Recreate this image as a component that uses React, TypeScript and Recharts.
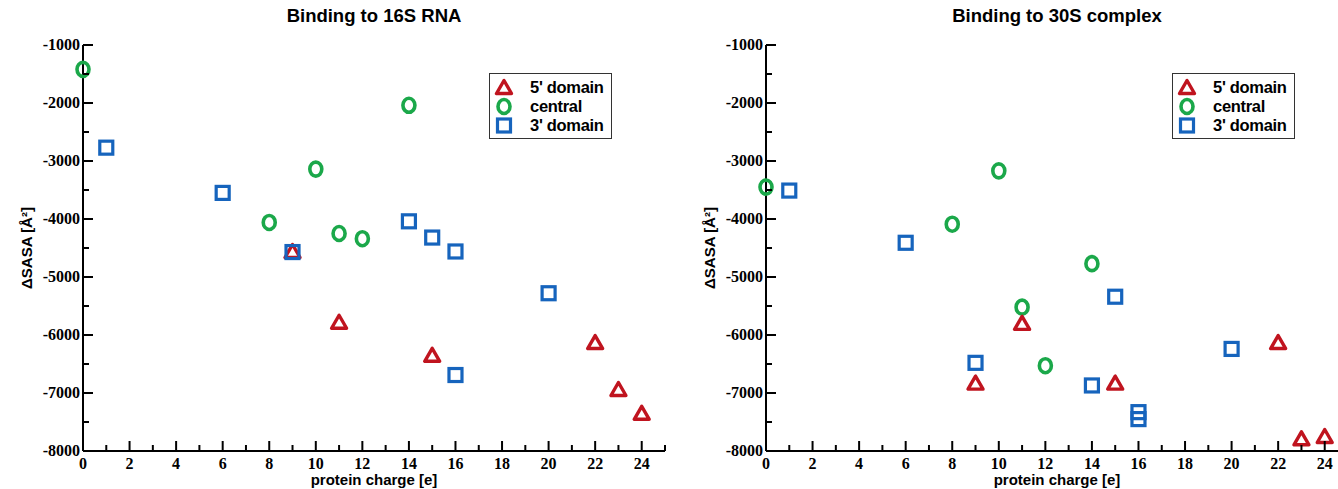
import { ScatterChart, Scatter, XAxis, YAxis } from "recharts";

// charge values (x) and ΔSASA values (y), one pair of lists per series
const rna5X = [9, 11, 15, 22, 23, 24];
const rna5Y = [-4560, -5780, -6350, -6130, -6940, -7350];
const rnaCentralX = [0, 8, 10, 11, 12, 14];
const rnaCentralY = [-1420, -4060, -3140, -4250, -4340, -2040];
const rna3X = [1, 6, 9, 14, 15, 16, 16, 20];
const rna3Y = [-2770, -3550, -4570, -4040, -4320, -4560, -6690, -5280];

const cpx5X = [9, 11, 15, 22, 23, 24];
const cpx5Y = [-6830, -5800, -6830, -6130, -7790, -7750];
const cpxCentralX = [0, 8, 10, 11, 12, 14];
const cpxCentralY = [-3450, -4090, -3170, -5520, -6530, -4770];
const cpx3X = [1, 6, 9, 14, 15, 16, 16, 20];
const cpx3Y = [-3510, -4410, -6480, -6870, -5340, -7330, -7450, -6240];

const xTicks = [0, 1, 2, 3, 4, 5, 6, 7, 8, 9, 10, 11, 12, 13, 14, 15, 16, 17, 18, 19, 20, 21, 22, 23, 24, 25];
const yTicks = [-8000, -7500, -7000, -6500, -6000, -5500, -5000, -4500, -4000, -3500, -3000, -2500, -2000, -1500, -1000];
const legendNames = ["5' domain", "central", "3' domain"];

const RED = "#c0141f";
const GREEN = "#1ba84a";
const BLUE = "#1664bd";

const zip = (xs: number[], ys: number[]) => xs.map((x, i) => ({ x, y: ys[i] }));

const Tri = ({ cx, cy }: any) => (
  <path d={`M${cx},${cy - 7} L${cx - 7.5},${cy + 6} L${cx + 7.5},${cy + 6} Z`} fill="none" stroke={RED} strokeWidth={3.4} strokeLinejoin="round" />
);
const Circ = ({ cx, cy }: any) => (
  <ellipse cx={cx} cy={cy} rx={6} ry={7} fill="none" stroke={GREEN} strokeWidth={3.6} />
);
const Sq = ({ cx, cy }: any) => (
  <rect x={cx - 6.5} y={cy - 6.5} width={13} height={13} fill="none" stroke={BLUE} strokeWidth={3.2} />
);

const serif = "Liberation Serif";
const sans = "Liberation Sans";

const BottomTick = ({ x, y, payload }: any) => {
  const major = payload.value % 2 === 0;
  return (
    <g>
      <line x1={x} x2={x} y1={y} y2={y - (major ? 10 : 6)} stroke="#000" strokeWidth={2} />
      {major && payload.value < 25 && (
        <text x={x} y={y + 18} textAnchor="middle" fontFamily={serif} fontWeight={700} fontSize={16} fill="#000">{payload.value}</text>
      )}
    </g>
  );
};
const TopTick = ({ x, y, payload }: any) => {
  const major = payload.value % 2 === 0;
  return <line x1={x} x2={x} y1={y} y2={y + (major ? 10 : 6)} stroke="#000" strokeWidth={2} />;
};
const LeftTick = ({ x, y, payload }: any) => {
  const major = payload.value % 1000 === 0;
  return (
    <g>
      <line x1={x} x2={x + (major ? 10 : 6)} y1={y} y2={y} stroke="#000" strokeWidth={2} />
      {major && (
        <text x={x - 3} y={y + 5} textAnchor="end" fontFamily={serif} fontWeight={700} fontSize={16} fill="#000">{payload.value}</text>
      )}
    </g>
  );
};
const RightTick = ({ x, y, payload }: any) => {
  const major = payload.value % 1000 === 0;
  return <line x1={x} x2={x - (major ? 10 : 6)} y1={y} y2={y} stroke="#000" strokeWidth={2} />;
};

function Legend() {
  const shapes = [Tri, Circ, Sq];
  return (
    <div style={{ position: "absolute", left: 489, top: 73, width: 123, height: 66, border: "1.5px solid #333", background: "#fff", boxSizing: "border-box" }}>
      {legendNames.map((n, i) => {
        const S = shapes[i];
        return (
          <div key={n} style={{ position: "absolute", left: 0, top: 4 + i * 19, height: 19, display: "flex", alignItems: "center" }}>
            <svg width={30} height={19} style={{ display: "block" }}>
              <S cx={14} cy={9.5} />
            </svg>
            <span style={{ marginLeft: 10, fontFamily: sans, fontWeight: 700, fontSize: 16.5, color: "#000", letterSpacing: -0.3 }}>{n}</span>
          </div>
        );
      })}
    </div>
  );
}

function Panel({ title, left, tri, circ, sq }: any) {
  return (
    <div style={{ position: "absolute", left, top: 0, width: 680, height: 489 }}>
      <div style={{ position: "absolute", left: 83, width: 582, top: 5, textAlign: "center", fontFamily: sans, fontWeight: 700, fontSize: 18.5 }}>{title}</div>
      <ScatterChart width={680} height={489} margin={{ top: 45, right: 15, bottom: 0, left: 0 }}>
        <XAxis type="number" dataKey="x" domain={[0, 25]} ticks={xTicks} interval={0} height={38}
          tickLine={false} tickSize={0} tickMargin={0} tick={<BottomTick />} axisLine={{ stroke: "#000", strokeWidth: 2 }}
          label={{ value: "protein charge [e]", position: "insideBottom", offset: 4, style: { fontFamily: sans, fontWeight: 700, fontSize: 15, fill: "#000" } }} />
        <XAxis xAxisId="top" orientation="top" type="number" domain={[0, 25]} ticks={xTicks} interval={0} height={0}
          tickLine={false} tickSize={0} tickMargin={0} tick={<TopTick />} axisLine={{ stroke: "#000", strokeWidth: 2 }} />
        <YAxis type="number" dataKey="y" domain={[-8000, -1000]} ticks={yTicks} interval={0} width={83}
          tickLine={false} tickSize={0} tickMargin={0} tick={<LeftTick />} axisLine={{ stroke: "#000", strokeWidth: 2 }}
          label={{ value: "ΔSASA [Å²]", angle: -90, position: "insideLeft", offset: 27, style: { textAnchor: "middle", fontFamily: sans, fontWeight: 700, fontSize: 15, fill: "#000" } }} />
        <YAxis yAxisId="right" orientation="right" type="number" domain={[-8000, -1000]} ticks={yTicks} interval={0} width={0}
          tickLine={false} tickSize={0} tickMargin={0} tick={<RightTick />} axisLine={{ stroke: "#000", strokeWidth: 2 }} />
        <Scatter name="central" data={circ} shape={<Circ />} isAnimationActive={false} />
        <Scatter name="5' domain" data={tri} shape={<Tri />} isAnimationActive={false} />
        <Scatter name="3' domain" data={sq} shape={<Sq />} isAnimationActive={false} />
      </ScatterChart>
      <Legend />
    </div>
  );
}

export default function App() {
  return (
    <div style={{ position: "fixed", left: 0, top: 0, width: 1338, height: 489, overflow: "hidden", background: "#fff" }}>
      <Panel title="Binding to 16S RNA" left={0}
        tri={zip(rna5X, rna5Y)} circ={zip(rnaCentralX, rnaCentralY)} sq={zip(rna3X, rna3Y)} />
      <Panel title="Binding to 30S complex" left={683}
        tri={zip(cpx5X, cpx5Y)} circ={zip(cpxCentralX, cpxCentralY)} sq={zip(cpx3X, cpx3Y)} />
    </div>
  );
}
